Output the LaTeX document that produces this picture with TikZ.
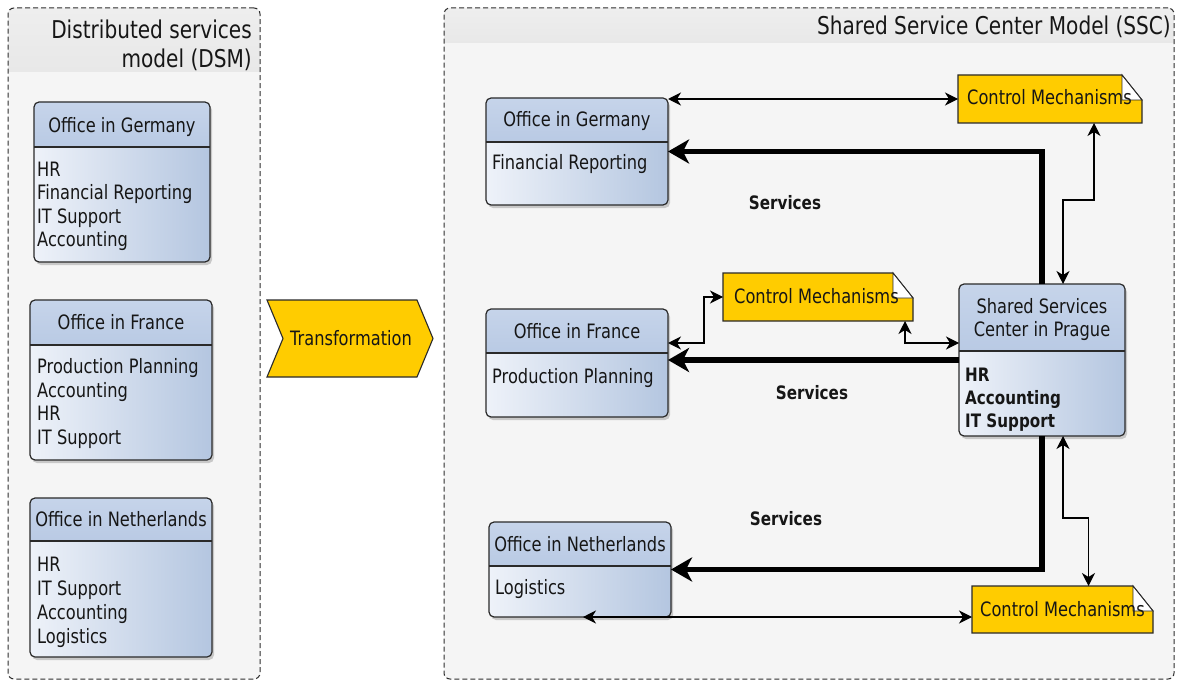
\documentclass[tikz,border=0pt]{standalone}
\usepackage{fontspec}
\setmainfont{DejaVu Sans}[FakeStretch=0.82]
\usetikzlibrary{arrows.meta,calc}

\definecolor{panelfill}{HTML}{F5F5F5}
\definecolor{panelheadtop}{HTML}{EEEEEE}
\definecolor{panelhead}{HTML}{E8E8E8}
\definecolor{frame}{HTML}{2E2E2E}
\definecolor{hdrtop}{HTML}{C6D4EA}
\definecolor{hdrbot}{HTML}{B9CAE4}
\definecolor{bodylight}{HTML}{EEF2F9}
\definecolor{bodyblue}{HTML}{B4C6E0}
\definecolor{edge}{HTML}{2A2A2A}
\definecolor{notey}{HTML}{FFCC00}
\definecolor{ink}{HTML}{161616}

\newcommand\boxfont{\fontsize{19.8}{23.5}\selectfont}
\newcommand\boldfont{\fontsize{18.5}{23}\selectfont\bfseries}
\newcommand\titlefont{\fontsize{24.5}{28}\selectfont}

\tikzset{
  panelframe/.style={draw=frame, dash pattern=on 5pt off 3pt, line width=1pt,
    rounded corners=6pt, inner sep=0pt, outer sep=0pt, anchor=north west},
  boxframe/.style={draw=edge, line width=1.2pt, rounded corners=5pt,
    inner sep=0pt, outer sep=0pt, anchor=north west},
  notefill/.style={fill=notey, draw=edge, line width=1.1pt},
  foldfill/.style={fill=white, draw=edge, line width=0.9pt},
  txt/.style={font=\boxfont, text=ink, inner sep=0pt},
  btxt/.style={font=\boldfont, text=ink, inner sep=0pt},
  ttl/.style={font=\titlefont, text=ink, inner sep=0pt},
  link/.style={draw=black, line width=1.3pt,
    {Stealth[length=13pt,width=13pt,inset=4pt]}-{Stealth[length=13pt,width=13pt,inset=4pt]}},
  flow/.style={draw=black, line width=5.5pt,
    -{Stealth[length=21pt,width=24pt,inset=6pt]}},
}

% dashed container with a grey heading band
\newcommand\panelbox[6]{%
  \fill[panelfill, rounded corners=6pt] (#2,#3) rectangle (#4,#5);
  \begin{scope}
    \clip[rounded corners=6pt] (#2,#3) rectangle (#4,#5);
    \shade[top color=panelheadtop, bottom color=panelhead] (#2,#3) rectangle (#4,#6);
  \end{scope}
  \node[panelframe, minimum width={(#4-#2)*1pt}, minimum height={(#5-#3)*1pt}] (#1) at (#2,#3) {};
}

% office class box: name, x0, y0, x1, y1, y of the compartment line
\newcommand\officebox[6]{%
  \fill[black, opacity=0.18, rounded corners=5pt] (#2+2,#3+3) rectangle (#4+2,#5+3);
  \begin{scope}
    \clip[rounded corners=5pt] (#2,#3) rectangle (#4,#5);
    \shade[left color=bodylight, right color=bodyblue] (#2,#6) rectangle (#4,#5);
    \shade[top color=hdrtop, bottom color=hdrbot] (#2,#3) rectangle (#4,#6);
  \end{scope}
  \draw[edge, line width=1.2pt] (#2,#6) -- (#4,#6);
  \node[boxframe, minimum width={(#4-#2)*1pt}, minimum height={(#5-#3)*1pt}] (#1) at (#2,#3) {};
}

% yellow note with a folded corner
\newcommand\notebox[5]{%
  \node[inner sep=0pt, outer sep=0pt, anchor=north west,
    minimum width={(#4-#2)*1pt}, minimum height={(#5-#3)*1pt}] (#1) at (#2,#3) {};
  \filldraw[notefill] (#1.north west) -- ($(#1.north east)+(-20,0)$) -- ($(#1.north east)+(0,25)$)
    -- (#1.south east) -- (#1.south west) -- cycle;
  \filldraw[foldfill] ($(#1.north east)+(-20,0)$) -- ($(#1.north east)+(-20,25)$)
    -- ($(#1.north east)+(0,25)$) -- cycle;
}

\begin{document}
\begin{tikzpicture}[x=1pt, y=-1pt]
\fill[white] (0,0) rectangle (1184,682);
\useasboundingbox (0,0) rectangle (1184,682);

% ---- distributed model ----
\panelbox{dsm}{8}{8}{260}{679}{72}
\node[ttl, anchor=base east] (dsmt1) at (252,39) {Distributed services};
\node[ttl, anchor=base east] (dsmt2) at (252,68) {model (DSM)};

\officebox{lger}{34}{102}{210}{262}{147}
\node[txt, anchor=base] (lgert) at (122,132.5) {Office in Germany};
\foreach \t [count=\i from 0] in {HR, Financial Reporting, IT Support, Accounting}
  \node[txt, anchor=base west] (lgerb\i) at (37,{176.5+23.3*\i}) {\t};

\officebox{lfra}{30}{300}{212}{460}{345}
\node[txt, anchor=base] (lfrat) at (121,329.5) {Office in France};
\foreach \t [count=\i from 0] in {Production Planning, Accounting, HR, IT Support}
  \node[txt, anchor=base west] (lfrab\i) at (37,{373.5+23.7*\i}) {\t};

\officebox{lned}{30}{498}{212}{657}{541}
\node[txt, anchor=base] (lnedt) at (121,526.5) {Office in Netherlands};
\foreach \t [count=\i from 0] in {HR, IT Support, Accounting, Logistics}
  \node[txt, anchor=base west] (lnedb\i) at (37,{571.5+24*\i}) {\t};

% ---- transformation step ----
\filldraw[notefill] (267,300) -- (417,300) -- (433,338.5) -- (417,377) -- (267,377) -- (283,338.5) -- cycle;
\node[txt] (transf) at (351,338.5) {Transformation};

% ---- shared service center model ----
\panelbox{ssc}{444}{8}{1174}{679}{43}
\node[ttl, anchor=base east] (ssct) at (1171,35) {Shared Service Center Model (SSC)};

\officebox{rger}{486}{98}{668}{205}{142}
\node[txt, anchor=base] (rgert) at (577,126.5) {Office in Germany};
\node[txt, anchor=base west] (rgerb) at (492,169.5) {Financial Reporting};

\officebox{rfra}{486}{309}{668}{417}{353}
\node[txt, anchor=base] (rfrat) at (577,338.5) {Office in France};
\node[txt, anchor=base west] (rfrab) at (492,383.5) {Production Planning};

\officebox{rned}{489}{522}{671}{617}{566}
\node[txt, anchor=base] (rnedt) at (580,551.5) {Office in Netherlands};
\node[txt, anchor=base west] (rnedb) at (495,594.5) {Logistics};

\officebox{prg}{959}{284}{1125}{436}{351}
\node[txt, anchor=base] (prgt1) at (1042,313.5) {Shared Services};
\node[txt, anchor=base] (prgt2) at (1042,336.5) {Center in Prague};
\foreach \t [count=\i from 0] in {HR, Accounting, IT Support}
  \node[btxt, anchor=base west] (prgb\i) at (965,{381+23*\i}) {\t};

\notebox{cm1}{958}{75}{1142}{123}
\node[txt, anchor=base west] (cm1t) at (967,104.5) {Control Mechanisms};
\notebox{cm2}{723}{273}{913}{321}
\node[txt, anchor=base west] (cm2t) at (734,303.5) {Control Mechanisms};
\notebox{cm3}{972}{586}{1153}{633}
\node[txt, anchor=base west] (cm3t) at (980,616.5) {Control Mechanisms};

% ---- service flows ----
\draw[flow] (prg.north) |- (rger.east);
\draw[flow] (prg.west) -- (prg.west -| rfra.east);
\draw[flow] (prg.south) |- (rned.east);

% ---- control links ----
\draw[link] (cm1.west) -- (cm1.west -| rger.east);
\draw[link] ($(cm1.south)+(44,0)$) -- ++(0,77) -| ($(prg.north)+(21,0)$);
\draw[link] (cm2.west) -- ++(-19,0) |- ($(rfra.east)+(0,-20)$);
\draw[link] ($(cm2.south)+(87,0)$) |- ($(prg.west)+(0,-17)$);
\draw[link] ($(prg.south)+(21,0)$) -- ++(0,82) -| ($(cm3.north)+(26,0)$);
\draw[link] ($(rned.south)+(3,0)$) -- (rned.south -| cm3.west);

% ---- labels ----
\node[btxt, anchor=base] (svc1) at (785,209) {Services};
\node[btxt, anchor=base] (svc2) at (812,399) {Services};
\node[btxt, anchor=base] (svc3) at (786,525) {Services};
\end{tikzpicture}
\end{document}
